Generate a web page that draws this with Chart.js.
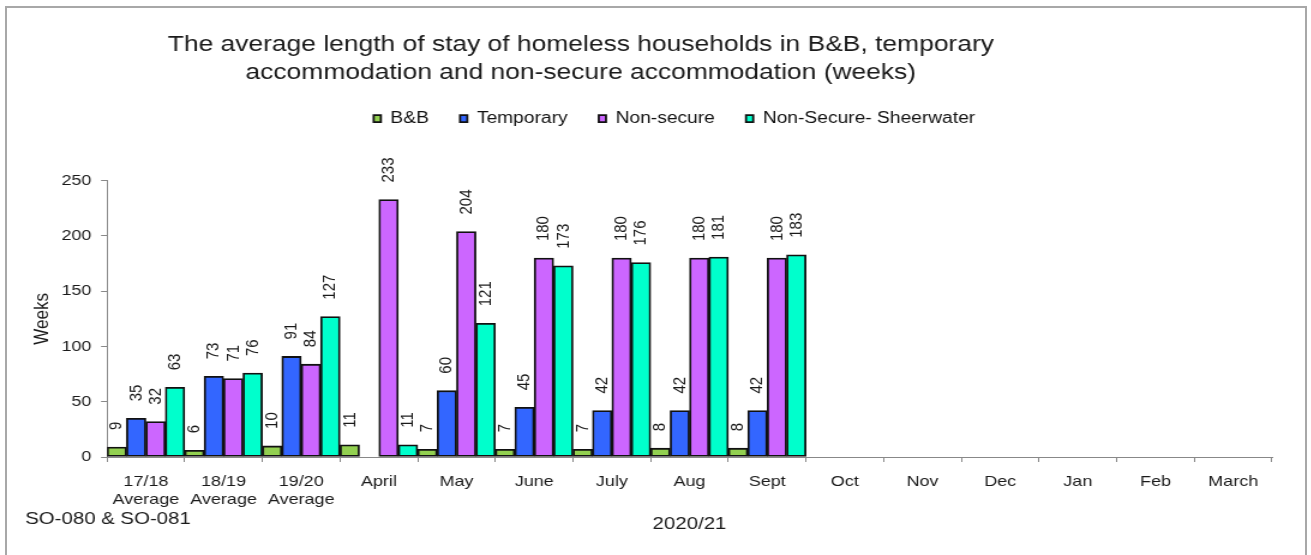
<!DOCTYPE html>
<html>
<head>
<meta charset="utf-8">
<script src="https://cdn.jsdelivr.net/npm/chart.js@4/dist/chart.umd.min.js"></script>
<style>
  html, body { margin: 0; padding: 0; background: #fff; overflow: hidden; width: 1311px; height: 555px; }
  #frame { position: absolute; left: 5px; top: 6px; width: 1298px; height: 600px; border: 2px solid #a8a8a8; }
  #wrap { position: absolute; left: 0; top: 0; width: 1093px; height: 555px; transform: scale(1.2, 1); transform-origin: 0 0; }
  canvas { display: block; }
</style>
</head>
<body>
<div id="frame"></div>
<div id="wrap"><canvas id="c" width="1093" height="555" style="width:1093px;height:555px"></canvas></div>
<script>
// ---- data ----
const categories = [
  ['17/18', 'Average'], ['18/19', 'Average'], ['19/20', 'Average'],
  'April', 'May', 'June', 'July', 'Aug', 'Sept', 'Oct', 'Nov', 'Dec', 'Jan', 'Feb', 'March'
];
const seriesNames = ['B&B', 'Temporary', 'Non-secure', 'Non-Secure- Sheerwater'];
const bnb        = [9, 6, 10, 11, 7, 7, 7, 8, 8, null, null, null, null, null, null];
const temporary  = [35, 73, 91, null, 60, 45, 42, 42, 42, null, null, null, null, null, null];
const nonSecure  = [32, 71, 84, 233, 204, 180, 180, 180, 180, null, null, null, null, null, null];
const sheerwater = [63, 76, 127, 11, 121, 173, 176, 181, 183, null, null, null, null, null, null];
const yTicks = [0, 50, 100, 150, 200, 250];
const titleLines = [
  'The average length of stay of homeless households in B&B, temporary',
  'accommodation and non-secure accommodation (weeks)'
];
const yTitle = 'Weeks';
const xTitle = '2020/21';
const footnote = 'SO-080 & SO-081';

const colors = ['#92D050', '#3366FF', '#CC66FF', '#00FFCC'];
const FONT = '"Liberation Sans", Arial, sans-serif';

const legendGap = {
  id: 'legendGap',
  beforeInit(chart) {
    const lg = chart.legend;
    if (lg && !lg._wrapped) {
      const orig = lg.fit;
      lg.fit = function () { orig.call(this); this.height += 44; };
      lg._wrapped = true;
    }
  },
  afterLayout(chart) {
    chart.titleBlock.left -= 46; chart.titleBlock.right -= 46;
    chart.legend.left += 32; chart.legend.right += 32;
  }
};

const dataLabels = {
  id: 'dataLabels',
  afterDatasetsDraw(chart) {
    const ctx = chart.ctx;
    ctx.save();
    ctx.font = '15px ' + FONT;
    ctx.fillStyle = '#1a1a1a';
    ctx.textAlign = 'left';
    ctx.textBaseline = 'middle';
    chart.data.datasets.forEach((ds, di) => {
      const meta = chart.getDatasetMeta(di);
      meta.data.forEach((bar, i) => {
        const v = ds.data[i];
        if (v === null || v === undefined) return;
        ctx.save();
        ctx.translate(bar.x, bar.y - 17);
        ctx.rotate(-Math.PI / 2);
        ctx.fillText(String(v), 0, 0);
        ctx.restore();
      });
    });
    ctx.font = '17px ' + FONT;
    ctx.textBaseline = 'middle';
    ctx.fillText(footnote, 21, 519);
    ctx.restore();
  }
};

const seriesData = [bnb, temporary, nonSecure, sheerwater];

new Chart(document.getElementById('c'), {
  type: 'bar',
  data: {
    labels: categories,
    datasets: seriesNames.map((n, i) => ({
      label: n,
      data: seriesData[i],
      backgroundColor: colors[i],
      borderColor: '#111',
      borderWidth: 1.8,
      borderSkipped: false,
      barPercentage: 1,
      categoryPercentage: 1
    }))
  },
  options: {
    responsive: false,
    animation: false,
    devicePixelRatio: 1,
    layout: { padding: { left: 0, right: 33, top: 0, bottom: 0 } },
    plugins: {
      tooltip: { enabled: false },
      title: {
        display: true,
        text: titleLines,
        color: '#1a1a1a',
        font: { family: FONT, size: 22, weight: 'normal', lineHeight: 1.3 },
        padding: { top: 30.5, bottom: -3 }
      },
      legend: {
        display: true,
        position: 'top',
        labels: {
          color: '#111',
          font: { family: FONT, size: 16 },
          boxWidth: 6,
          boxHeight: 7,
          padding: 26
        }
      }
    },
    scales: {
      x: {
        grid: { display: true, drawOnChartArea: false, drawTicks: true, tickLength: 5, color: '#888', offset: true },
        border: { display: true, color: '#888', width: 1 },
        ticks: { color: '#1a1a1a', font: { family: FONT, size: 15, lineHeight: 1.25 }, padding: 10, autoSkip: false, maxRotation: 0 },
        title: { display: true, text: xTitle, color: '#1a1a1a', font: { family: FONT, size: 17 }, padding: { top: 0, bottom: 20.5 } },
        afterFit(s) { s.height = 98; }
      },
      y: {
        min: 0,
        max: 250,
        afterBuildTicks(s) { s.ticks = yTicks.map(v => ({ value: v })); },
        grid: { display: true, drawOnChartArea: false, drawTicks: true, tickLength: 5, color: '#888' },
        border: { display: true, color: '#888', width: 1 },
        ticks: { color: '#1a1a1a', font: { family: FONT, size: 15 }, padding: 8 },
        title: { display: true, text: yTitle, color: '#1a1a1a', font: { family: FONT, size: 17 }, padding: { top: 25, bottom: 0 } },
        afterFit(s) { s.width = 89.2; }
      }
    }
  },
  plugins: [legendGap, dataLabels]
});
</script>
</body>
</html>
